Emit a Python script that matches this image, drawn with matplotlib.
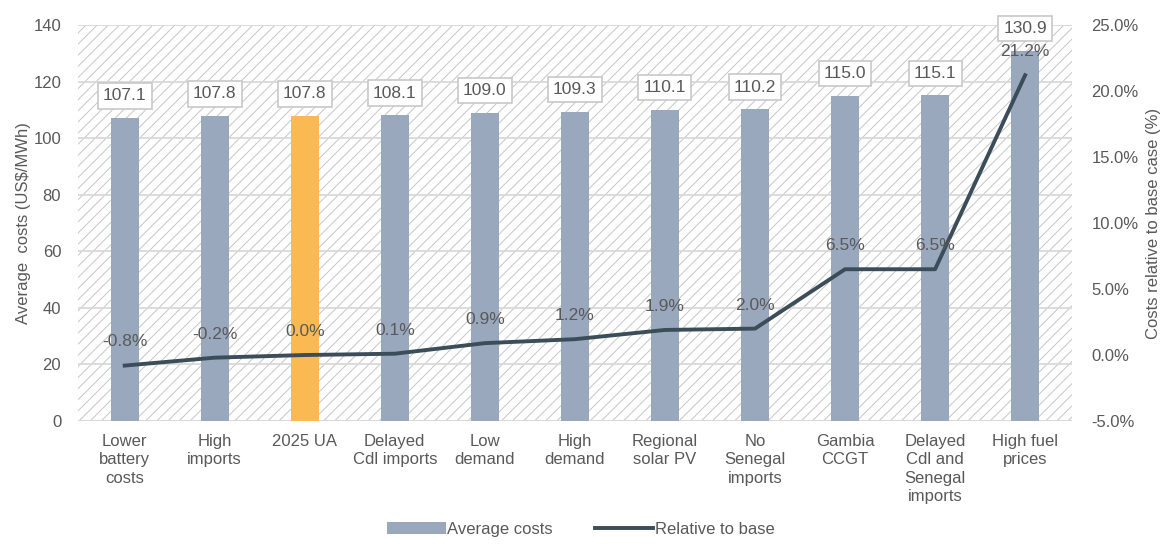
import matplotlib
matplotlib.use("Agg")
import matplotlib.pyplot as plt
from matplotlib.patches import Rectangle
import numpy as np

plt.rcParams['font.family'] = ['Liberation Sans', 'DejaVu Sans']
plt.rcParams['hatch.color'] = '#c6c6c6'
plt.rcParams['hatch.linewidth'] = 0.7

categories = ["Lower\nbattery\ncosts", "High\nimports", "2025 UA", "Delayed\nCdl imports",
              "Low\ndemand", "High\ndemand", "Regional\nsolar PV", "No\nSenegal\nimports",
              "Gambia\nCCGT", "Delayed\nCdl and\nSenegal\nimports", "High fuel\nprices"]
avg_costs = [107.1, 107.8, 107.8, 108.1, 109.0, 109.3, 110.1, 110.2, 115.0, 115.1, 130.9]
rel_base = [-0.8, -0.2, 0.0, 0.1, 0.9, 1.2, 1.9, 2.0, 6.5, 6.5, 21.2]
highlight = "2025 UA"

txt = '#595959'
bar_col = '#9aa8bd'
hi_col = '#fbb954'
line_col = '#3b4d59'

fig = plt.figure(figsize=(11.62, 5.45), dpi=100)
ax = fig.add_axes([0.067, 0.2275, 0.8555, 0.7265])
x = np.arange(len(categories))

# hatched background
ax.add_patch(Rectangle((0, 0), 1, 1, transform=ax.transAxes, facecolor='white',
                       hatch='///', edgecolor='#c6c6c6', linewidth=0, zorder=0))
for y in range(20, 141, 20):
    ax.axhline(y, color='#d9d9d9', lw=1.3, zorder=1)
ax.axhline(0, color='#d9d9d9', lw=1.5, zorder=1)

colors = [hi_col if c == highlight else bar_col for c in categories]
bars = ax.bar(x, avg_costs, width=0.31, color=colors, zorder=2, label='Average costs')
for xi, v in zip(x, avg_costs):
    ax.annotate(f"{v:.1f}", (xi, v), xytext=(0, 16), textcoords='offset points',
                ha='center', va='center', fontsize=12.5, color=txt, zorder=5,
                bbox=dict(boxstyle='square,pad=0.3', fc='white', ec='#c8c8c8', lw=1.2))

ax.set_xlim(-0.52, len(categories) - 0.48)
ax.set_ylim(0, 140)
ax.set_yticks(range(0, 141, 20))
ax.set_xticks(x)
ax.set_xticklabels(categories, fontsize=12, color=txt, linespacing=1.3)
ax.tick_params(axis='both', length=0, colors=txt, labelsize=12)
ax.tick_params(axis='x', pad=9)
ax.tick_params(axis='y', pad=12)
ax.set_ylabel("Average  costs (US$/MWh)", fontsize=12, color=txt, labelpad=2)
for s in ax.spines.values():
    s.set_visible(False)

ax2 = ax.twinx()
ln, = ax2.plot(x, rel_base, color=line_col, lw=2.8, zorder=3, label='Relative to base')
for xi, v in zip(x, rel_base):
    ax2.annotate(f"{v:.1f}%", (xi, v), xytext=(0, 17), textcoords='offset points',
                 ha='center', va='center', fontsize=12.5, color=txt)
ax2.set_ylim(-5, 25)
ax2.set_yticks(np.arange(-5, 26, 5))
ax2.set_yticklabels([f"{t:.1f}%" for t in np.arange(-5, 26, 5)])
ax2.tick_params(axis='y', length=0, colors=txt, labelsize=12, pad=14)
ax2.set_ylabel("Costs relative to base case (%)", fontsize=12, color=txt, labelpad=5)
for s in ax2.spines.values():
    s.set_visible(False)

fig.legend([bars, ln], ['Average costs', 'Relative to base'], loc='lower center',
           bbox_to_anchor=(0.5, -0.012), ncol=2, frameon=False, fontsize=12,
           labelcolor=txt, handlelength=3.5, handletextpad=0.1, columnspacing=2.5)

fig.savefig("out.png", dpi=100)
